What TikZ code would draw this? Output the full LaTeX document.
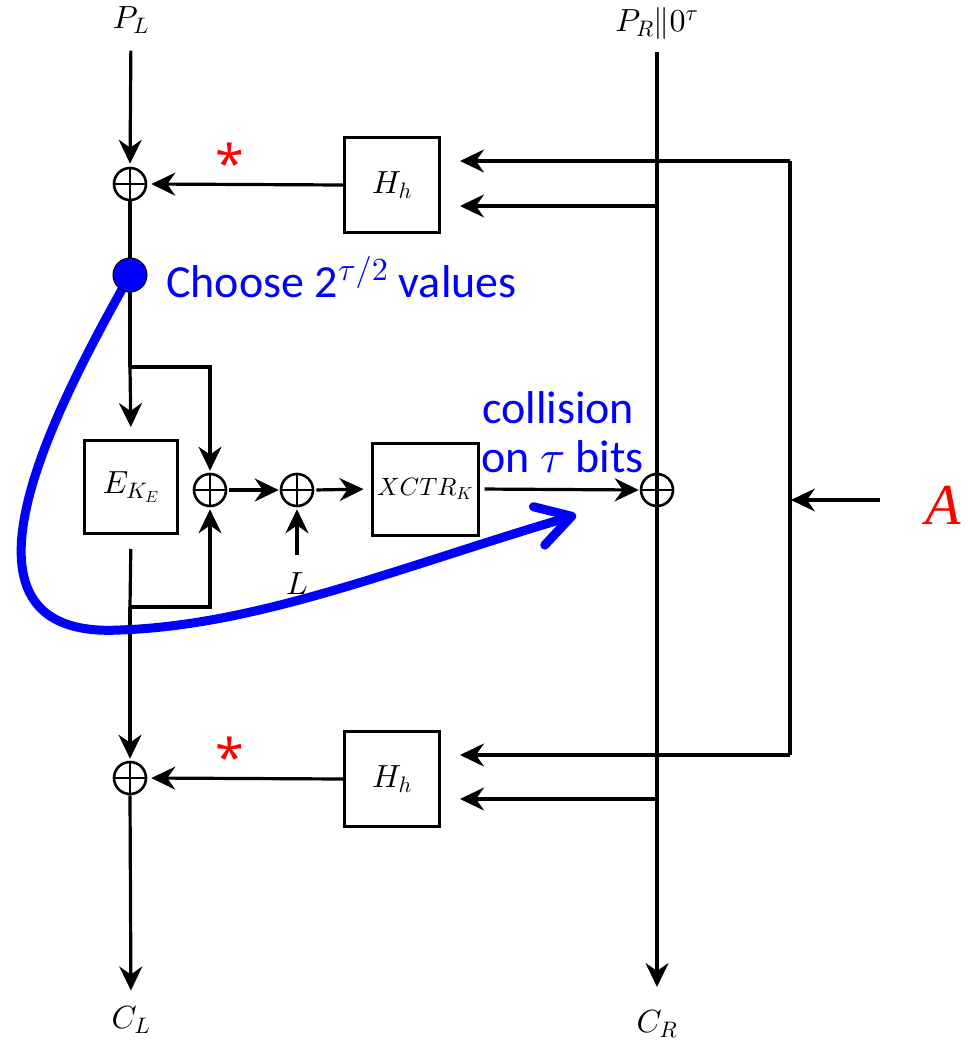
\documentclass[tikz,border=0pt]{standalone}
\usepackage{fontspec}
\DeclareFontShape{OML}{cmm}{m}{it}{<->cmmi10}{}
\DeclareFontShape{OMS}{cmsy}{m}{n}{<->cmsy10}{}
\DeclareFontShape{OT1}{cmr}{m}{n}{<->cmr10}{}
\newfontfamily\annfont{Carlito}
\newfontfamily\starfont{Open Sans}
\newfontfamily\afont{Liberation Serif}
\usetikzlibrary{arrows.meta}
\newcommand\mlab{\fontsize{32}{36}\selectfont}
\begin{document}
\begin{tikzpicture}[x=1pt,y=-1pt,
  conn/.style={line width=3.2pt, draw=black},
  conna/.style={conn, -{Stealth[length=24pt,width=23pt,inset=8pt]}},
  blk/.style={draw, line width=3pt, minimum width=95pt, minimum height=95pt, inner sep=0pt, font=\mlab},
  xorn/.style={circle, draw, line width=2.6pt, minimum size=32pt, inner sep=0pt,
    path picture={\draw[line width=2.6pt] (path picture bounding box.north) -- (path picture bounding box.south)
      (path picture bounding box.west) -- (path picture bounding box.east);}},
  lab/.style={inner sep=0pt, font=\mlab},
  ann/.style={text=blue, font=\annfont\fontsize{46}{50}\selectfont, inner sep=0pt, anchor=base west},
  star/.style={text=red, font=\starfont\fontsize{52}{52}\selectfont, inner sep=0pt},
]
\useasboundingbox (0,0) rectangle (969,1041);

% labels
\node[lab] (PL) at (131,20) {$P_L$};
\node[lab] (PR) at (657,24) {$P_R\|0^\tau$};
\node[lab] (CL) at (131,1020) {$C_L$};
\node[lab] (CR) at (657,1024) {$C_R$};
\node[lab] (L) at (297,584) {$L$};

% blocks
\node[xorn] (x1) at (130,184) {};
\node[blk] (H1) at (392,185) {$H_h$};
\node[xorn] (x5) at (130,778) {};
\node[blk] (H2) at (392,779) {$H_h$};
\node[blk, minimum width=93pt, minimum height=93pt] (E) at (131,487) {$E_{K_E}$};
\node[xorn] (x2) at (210,490) {};
\node[xorn] (x3) at (297,490) {};
\node[blk, minimum width=106pt, minimum height=92pt] (X) at (425,489) {\fontsize{25}{28}\selectfont$XCTR_K$};
\node[xorn] (x4) at (657,490) {};

% coordinates
\coordinate (s1) at (130,367);
\coordinate (s2) at (130,607);
\coordinate (rt) at (790,161);
\coordinate (rb) at (790,755);
\coordinate (ra) at (790,500);
\coordinate (aS) at (880,500);
\coordinate (h1a) at (657,206);
\coordinate (h2a) at (657,799);
\coordinate (PRs) at (657,52);
\coordinate (CRe) at (657,987);
\coordinate (ce) at (576,515);

% left column
\draw[conna, shorten <=17pt, shorten >=3pt] (PL.south) -- (x1.north);
\draw[conna, shorten >=4pt] (H1.west) -- (x1.east);
\draw[conn] (x1.south) -- (s1);
\draw[conna, shorten >=12pt] (s1) -- (E.north);
\draw[conna, shorten >=2pt] (s1) -| (x2.north);
\draw[conn, shorten <=14pt] (E.south) -- (s2);
\draw[conna, shorten >=2pt] (s2) -| (x2.south);
\draw[conna, shorten >=2pt] (s2) -- (x5.north);
\draw[conna, shorten >=4pt] (H2.west) -- (x5.east);
\draw[conna, shorten >=16pt] (x5.south) -- (CL.north);
\draw[conna, shorten <=2pt, shorten >=1pt] (x2.east) -- (x3.west);
\draw[conna, shorten <=2pt, shorten >=7pt] (x3.east) -- (X.west);
\draw[conna, shorten <=5pt, shorten >=1pt] (X.east) -- (x4.west);
\draw[conna, shorten <=18pt, shorten >=2pt] (L.north) -- (x3.south);

% right column
\draw[conna] (PRs) -- (x4.center) -- (CRe);
\draw[conna, shorten >=19pt] (rt) -- (H1.east |- rt);
\draw[conna, shorten >=19pt] (h1a) -- (H1.east |- h1a);
\draw[conn] (rt) -- (rb);
\draw[conna, shorten >=19pt] (rb) -- (H2.east |- rb);
\draw[conna, shorten >=19pt] (h2a) -- (H2.east |- h2a);
\draw[conna, shorten >=1pt] (aS) -- (ra);
\node[text=red, font=\afont\itshape\fontsize{58}{64}\selectfont, inner sep=0pt] (A) at (943,505) {A};

% stars
\node[star] (st1) at (230,163) {*};
\node[star] (st2) at (230,757) {*};

% blue annotation
\draw[blue, line width=9pt, line cap=round, -{Straight Barb[length=34pt,width=40pt,round]}]
  (130,275) .. controls (60,400) and (-70,640) .. (120,630)
  .. controls (260,625) and (400,567) .. (ce);
\node[circle, fill=blue, draw=black, line width=1pt, minimum size=34pt, inner sep=0pt] (dot) at (130,275) {};
\node[ann] (ch) at (166,297) {Choose 2$^{\tau/2}$ values};
\node[ann] (col) at (482,423) {collision};
\node[ann] (onb) at (481,472) {on $\tau$ bits};
\end{tikzpicture}
\end{document}
